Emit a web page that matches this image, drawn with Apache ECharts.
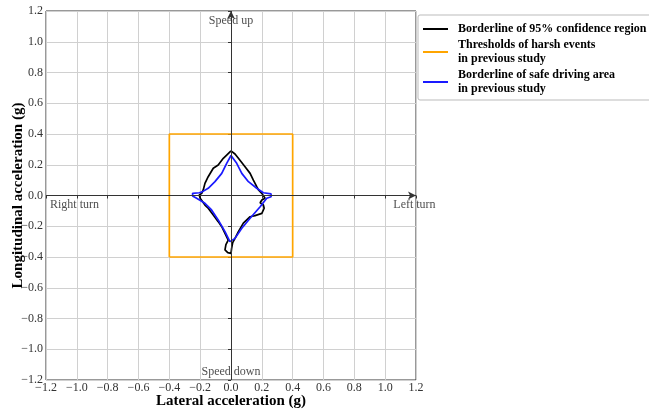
<!DOCTYPE html>
<html>
<head>
<meta charset="utf-8">
<script src="https://cdn.jsdelivr.net/npm/echarts@6/dist/echarts.min.js"></script>
<style>
  html, body { margin: 0; padding: 0; background: #fff; }
  #chart { width: 649px; height: 409px; }
</style>
</head>
<body>
<div id="chart"></div>
<script>
// Tick values shared by both axes
const tickValues = [-1.2, -1.0, -0.8, -0.6, -0.4, -0.2, 0.0, 0.2, 0.4, 0.6, 0.8, 1.0, 1.2];

// Borderline of the 95% confidence region (lateral, longitudinal), closed loop
const confX = [0.0, -0.028, -0.05, -0.083, -0.115, -0.148, -0.169, -0.18, -0.19, -0.206, -0.2, -0.19, -0.169, -0.148, -0.115, -0.083, -0.06, -0.039, -0.018, -0.033, -0.039, -0.021, 0.0, 0.004, 0.011, 0.026, 0.048, 0.08, 0.124, 0.156, 0.2, 0.215, 0.21, 0.189, 0.2, 0.221, 0.21, 0.2, 0.178, 0.167, 0.145, 0.124, 0.091, 0.048, 0.026, 0.0];
const confY = [0.29, 0.263, 0.242, 0.198, 0.177, 0.122, 0.079, 0.036, 0.014, 0.003, -0.018, -0.029, -0.062, -0.083, -0.127, -0.17, -0.203, -0.246, -0.29, -0.32, -0.354, -0.372, -0.376, -0.344, -0.307, -0.279, -0.235, -0.18, -0.138, -0.131, -0.116, -0.083, -0.062, -0.047, -0.029, -0.018, -0.008, 0.014, 0.036, 0.057, 0.1, 0.144, 0.187, 0.242, 0.27, 0.29];

// Thresholds of harsh events (rectangle corners)
const harshX = [-0.4, -0.4, 0.4, 0.4, -0.4];
const harshY = [-0.4, 0.4, 0.4, -0.4, -0.4];

// Borderline of safe driving area, closed loop
const safeX = [0.0, -0.028, -0.06, -0.104, -0.148, -0.19, -0.206, -0.249, -0.249, -0.223, -0.169, -0.126, -0.083, -0.039, -0.007, 0.004, 0.026, 0.07, 0.124, 0.189, 0.232, 0.26, 0.26, 0.21, 0.167, 0.113, 0.07, 0.037, 0.0];
const safeY = [0.26, 0.209, 0.144, 0.09, 0.047, 0.022, 0.018, 0.014, -0.003, -0.018, -0.051, -0.094, -0.159, -0.235, -0.3, -0.307, -0.279, -0.213, -0.148, -0.073, -0.018, -0.008, 0.01, 0.018, 0.047, 0.09, 0.144, 0.209, 0.26];

// Direction annotations
const noteText = ['Speed up', 'Speed down', 'Right turn', 'Left turn'];
const noteX = [0.0, 0.0, -1.015, 1.19];
const noteY = [1.135, -1.148, -0.062, -0.062];

const seriesNames = [
  'Borderline of 95% confidence region',
  'Thresholds of harsh events\nin previous study',
  'Borderline of safe driving area\nin previous study'
];

const zip = (xs, ys) => xs.map((x, i) => [x, ys[i]]);
const fmt = v => {
  const r = Math.round(v * 10) / 10;
  return (r < 0 ? '\u2212' : '') + Math.abs(r).toFixed(1);
};

const serif = 'Liberation Serif, Times New Roman, serif';

const axisCommon = {
  type: 'value',
  min: -1.2,
  max: 1.2,
  interval: 0.2,
  axisLine: { show: false },
  axisTick: { show: true, length: 3, lineStyle: { color: '#333' } },
  splitLine: { show: true, lineStyle: { color: '#d0d0d0', width: 1 } },
  nameLocation: 'middle',
  nameMoveOverlap: false,
  nameTextStyle: { fontFamily: serif, fontSize: 15, fontWeight: 'bold', color: '#000' }
};

const chart = echarts.init(document.getElementById('chart'), null, { renderer: 'canvas' });

chart.setOption({
  backgroundColor: '#fff',
  animation: false,
  grid: {
    left: 46, right: 233, top: 11, bottom: 29,
    outerBoundsMode: 'none',
    containLabel: false,
    show: true, borderColor: '#333', borderWidth: 1, backgroundColor: 'transparent'
  },
  xAxis: Object.assign({}, axisCommon, {
    name: 'Lateral acceleration (g)',
    nameGap: 14,
    axisLabel: { fontFamily: serif, fontSize: 12, color: '#333', margin: 2, formatter: fmt }
  }),
  yAxis: Object.assign({}, axisCommon, {
    name: 'Longitudinal acceleration (g)',
    nameGap: 20,
    axisLabel: { fontFamily: serif, fontSize: 12, color: '#333', margin: 3, formatter: fmt }
  }),
  legend: {
    data: seriesNames.map(n => ({ name: n, icon: 'rect' })),
    orient: 'vertical',
    left: 418,
    top: 15,
    padding: [7, 5, 4, 5],
    itemGap: 2,
    itemWidth: 25,
    itemHeight: 2,
    borderColor: '#bbb',
    borderWidth: 1,
    borderRadius: 2,
    backgroundColor: '#fff',
    textStyle: { fontFamily: serif, fontSize: 12, fontWeight: 'bold', color: '#000', lineHeight: 14, padding: [0, 0, 0, 5] }
  },
  series: [
    {
      name: 'notes',
      type: 'scatter',
      silent: true,
      symbolSize: 0,
      data: noteText.map((t, i) => ({ value: [noteX[i], noteY[i]], name: t })),
      label: {
        show: true,
        position: 'inside',
        formatter: p => p.name,
        fontFamily: serif,
        fontSize: 12,
        color: '#222'
      },
      markLine: {
        silent: true,
        symbol: ['none', 'arrow'],
        symbolSize: [6, 8],
        label: { show: false },
        lineStyle: { color: '#333', width: 1, type: 'solid' },
        data: [
          [{ coord: [tickValues[0], 0] }, { coord: [tickValues[tickValues.length - 1], 0] }],
          [{ coord: [0, tickValues[0]] }, { coord: [0, tickValues[tickValues.length - 1]] }]
        ]
      }
    },
    {
      name: seriesNames[0],
      type: 'line',
      showSymbol: false,
      symbol: 'none',
      color: '#000',
      lineStyle: { color: '#000', width: 1.7 },
      data: zip(confX, confY)
    },
    {
      name: seriesNames[1],
      type: 'line',
      showSymbol: false,
      symbol: 'none',
      color: '#ffa500',
      lineStyle: { color: '#ffa500', width: 1.7 },
      data: zip(harshX, harshY)
    },
    {
      name: seriesNames[2],
      type: 'line',
      showSymbol: false,
      symbol: 'none',
      color: '#1a1aff',
      lineStyle: { color: '#1a1aff', width: 1.7 },
      data: zip(safeX, safeY)
    }
  ]
});
</script>
</body>
</html>
